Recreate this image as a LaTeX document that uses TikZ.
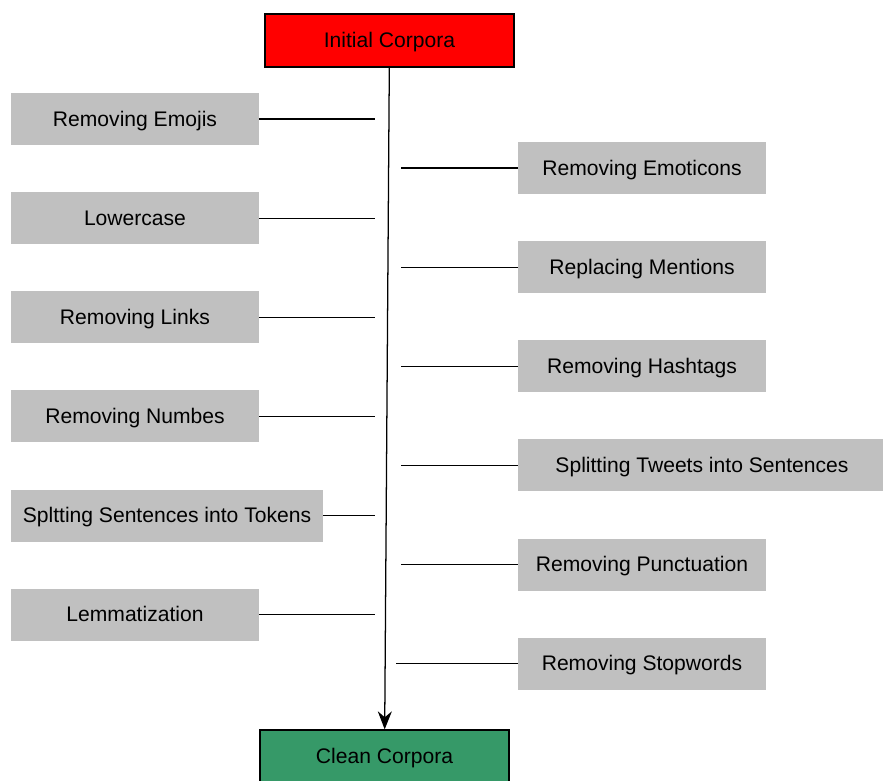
\documentclass[tikz,border=0pt]{standalone}
\usepackage{fontspec}
\setmainfont{Liberation Sans}
\usepackage{tikz}
\usetikzlibrary{arrows.meta, positioning}

\definecolor{stepgray}{RGB}{192,192,192}
\definecolor{startred}{RGB}{255,0,0}
\definecolor{endgreen}{RGB}{54,153,104}

\begin{document}
\begin{tikzpicture}[
    node distance=1.165cm,
    stepbox/.style={
        rectangle, fill=stepgray,
        minimum width=6.2cm, minimum height=1.3cm,
        align=center, font=\fontsize{15}{18}\selectfont, inner xsep=0.2cm,
        text height=13pt, text depth=3pt
    },
    corpus/.style={
        rectangle, draw, line width=0.9pt,
        minimum width=6.225cm, minimum height=1.325cm,
        align=center, font=\fontsize{15}{18}\selectfont,
        text height=13pt, text depth=3pt
    },
    arrow/.style={-{Stealth[length=0.45cm,width=0.35cm]},line width=0.9pt},
    link/.style={line width=0.8pt}
]
\useasboundingbox (0,0) rectangle (22.075,-19.5);

% Start and end of the pipeline
\node[corpus, fill=startred] (initial) at (9.7375,-1.0125) {Initial Corpora};
\node[corpus, fill=endgreen] (clean)   at (9.6125,-18.9125) {Clean Corpora};

% Left column
\node[stepbox] (emojis) at (3.375,-2.975) {Removing Emojis};
\node[stepbox, below=of emojis]  (lower)   {Lowercase};
\node[stepbox, below=of lower]   (links)   {Removing Links};
\node[stepbox, below=of links]   (numbers) {Removing Numbes};
\node[stepbox, minimum width=7.8cm, below=of numbers.south west, anchor=north west] (tokens) {Spltting Sentences into Tokens};
\node[stepbox, below=of tokens.south west, anchor=north west] (lemma) {Lemmatization};

% Right column
\node[stepbox] (emoticons) at (16.05,-4.2) {Removing Emoticons};
\node[stepbox, below=of emoticons] (mentions)  {Replacing Mentions};
\node[stepbox, below=of mentions]  (hashtags)  {Removing Hashtags};
\node[stepbox, minimum width=9.2cm, below=of hashtags.south west, anchor=north west] (sentences) {Splitting Tweets into Sentences};
\node[stepbox, below=of sentences.south west, anchor=north west] (punct) {Removing Punctuation};
\node[stepbox, below=of punct]     (stopwords) {Removing Stopwords};

% Free ends of the side links
\coordinate (lx) at (9.375,0);
\coordinate (rx) at (10.025,0);
\coordinate (rxl) at (9.9,0);

% Main spine
\draw[arrow] (initial) -- (clean);

% Side links
\foreach \n in {emojis, lower, links, numbers, tokens, lemma}
    \draw[link] (\n.east) -- (\n.east -| lx);
\foreach \n in {emoticons, mentions, hashtags, sentences, punct}
    \draw[link] (\n.west) -- (\n.west -| rx);
\draw[link] (stopwords.west) -- (stopwords.west -| rxl);

\end{tikzpicture}
\end{document}
